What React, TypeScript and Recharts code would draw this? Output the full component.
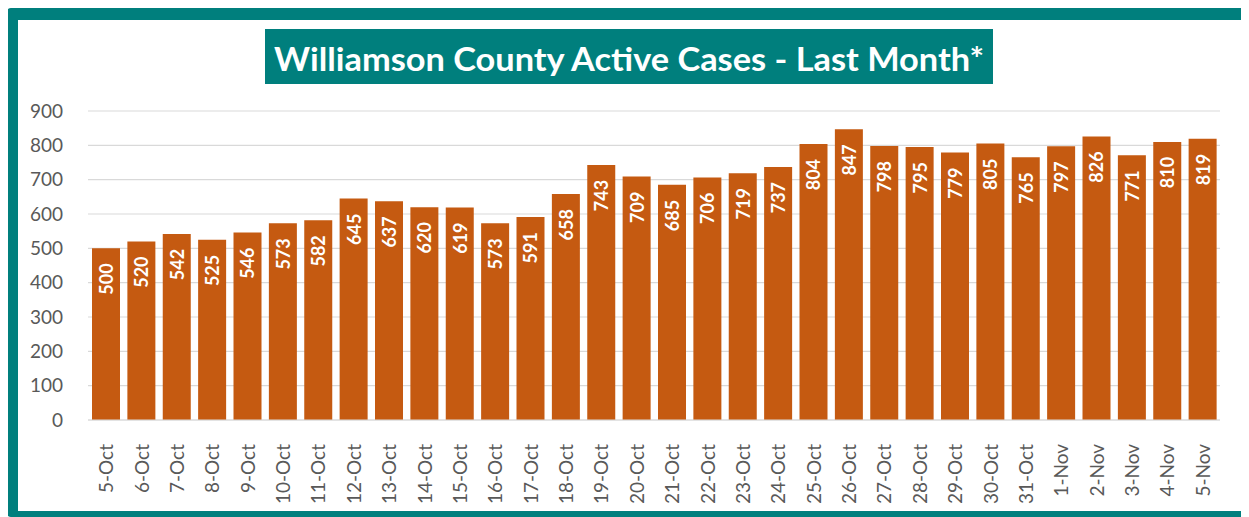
import { BarChart, Bar, XAxis, YAxis, CartesianGrid, LabelList } from "recharts";

const dates = [
	"5-Oct", "6-Oct", "7-Oct", "8-Oct", "9-Oct", "10-Oct", "11-Oct", "12-Oct",
	"13-Oct", "14-Oct", "15-Oct", "16-Oct", "17-Oct", "18-Oct", "19-Oct", "20-Oct",
	"21-Oct", "22-Oct", "23-Oct", "24-Oct", "25-Oct", "26-Oct", "27-Oct", "28-Oct",
	"29-Oct", "30-Oct", "31-Oct", "1-Nov", "2-Nov", "3-Nov", "4-Nov", "5-Nov",
];

const activeCases = [
	500, 520, 542, 525, 546, 573, 582, 645, 637, 620, 619, 573, 591, 658, 743, 709,
	685, 706, 719, 737, 804, 847, 798, 795, 779, 805, 765, 797, 826, 771, 810, 819,
];

const yTicks = [0, 100, 200, 300, 400, 500, 600, 700, 800, 900];

const TEAL = "#007f7d";
const ORANGE = "#c55a11";
const FONT = "Lato, 'Open Sans', sans-serif";

const data = dates.map((d, i) => ({ date: d, cases: activeCases[i] }));

function DateTick(props: any) {
	const { x, y, payload } = props;
	const ty = y + 16;
	return (
		<text
			x={x}
			y={ty}
			transform={`rotate(-90, ${x}, ${ty})`}
			textAnchor="end"
			dominantBaseline="central"
			fill="#595959"
			fontSize={19}
			fontFamily={FONT}
		>
			{payload.value}
		</text>
	);
}

function ValueLabel(props: any) {
	const { x, y, width, value } = props;
	const cx = x + width / 2;
	const ty = y + 15;
	return (
		<text
			x={cx}
			y={ty}
			transform={`rotate(-90, ${cx}, ${ty})`}
			textAnchor="end"
			dominantBaseline="central"
			fill="#ffffff"
			fontSize={18}
			fontWeight={700}
			fontFamily={FONT}
		>
			{value}
		</text>
	);
}

export default function App() {
	return (
		<div
			style={{
				position: "relative",
				marginLeft: -2,
				width: 1243,
				height: 509,
				boxSizing: "border-box",
				borderStyle: "solid",
				borderColor: TEAL,
				borderWidth: "12px 7px 6px 12px",
				borderRadius: 5,
				background: "#fff",
			}}
		>
			<div
				style={{
					position: "absolute",
					left: 247,
					top: 9,
					width: 728,
					height: 55,
					background: TEAL,
				}}
			>
				<svg width={728} height={55}>
					<text
						x={364}
						y={29}
						textAnchor="middle"
						dominantBaseline="central"
						fill="#ffffff"
						fontSize={33}
						fontWeight={700}
						fontFamily={FONT}
						textLength={710}
						lengthAdjust="spacingAndGlyphs"
					>
						Williamson County Active Cases - Last Month*
					</text>
				</svg>
			</div>
			<BarChart
				width={1224}
				height={491}
				data={data}
				margin={{ top: 91, right: 22, bottom: 0, left: 0 }}
				barSize={28}
			>
				<CartesianGrid vertical={false} stroke="#d9d9d9" strokeWidth={1.2} />
				<XAxis
					dataKey="date"
					interval={0}
					height={91}
					tick={<DateTick />}
					tickLine={false}
					axisLine={{ stroke: "#d9d9d9", strokeWidth: 1.2 }}
				/>
				<YAxis
					domain={[0, 900]}
					ticks={yTicks}
					width={70}
					axisLine={false}
					tickLine={false}
					tickSize={0}
					tickMargin={25}
					tick={{ fill: "#595959", fontSize: 19, fontFamily: FONT }}
				/>
				<Bar dataKey="cases" fill={ORANGE} isAnimationActive={false}>
					<LabelList dataKey="cases" content={<ValueLabel />} />
				</Bar>
			</BarChart>
		</div>
	);
}
